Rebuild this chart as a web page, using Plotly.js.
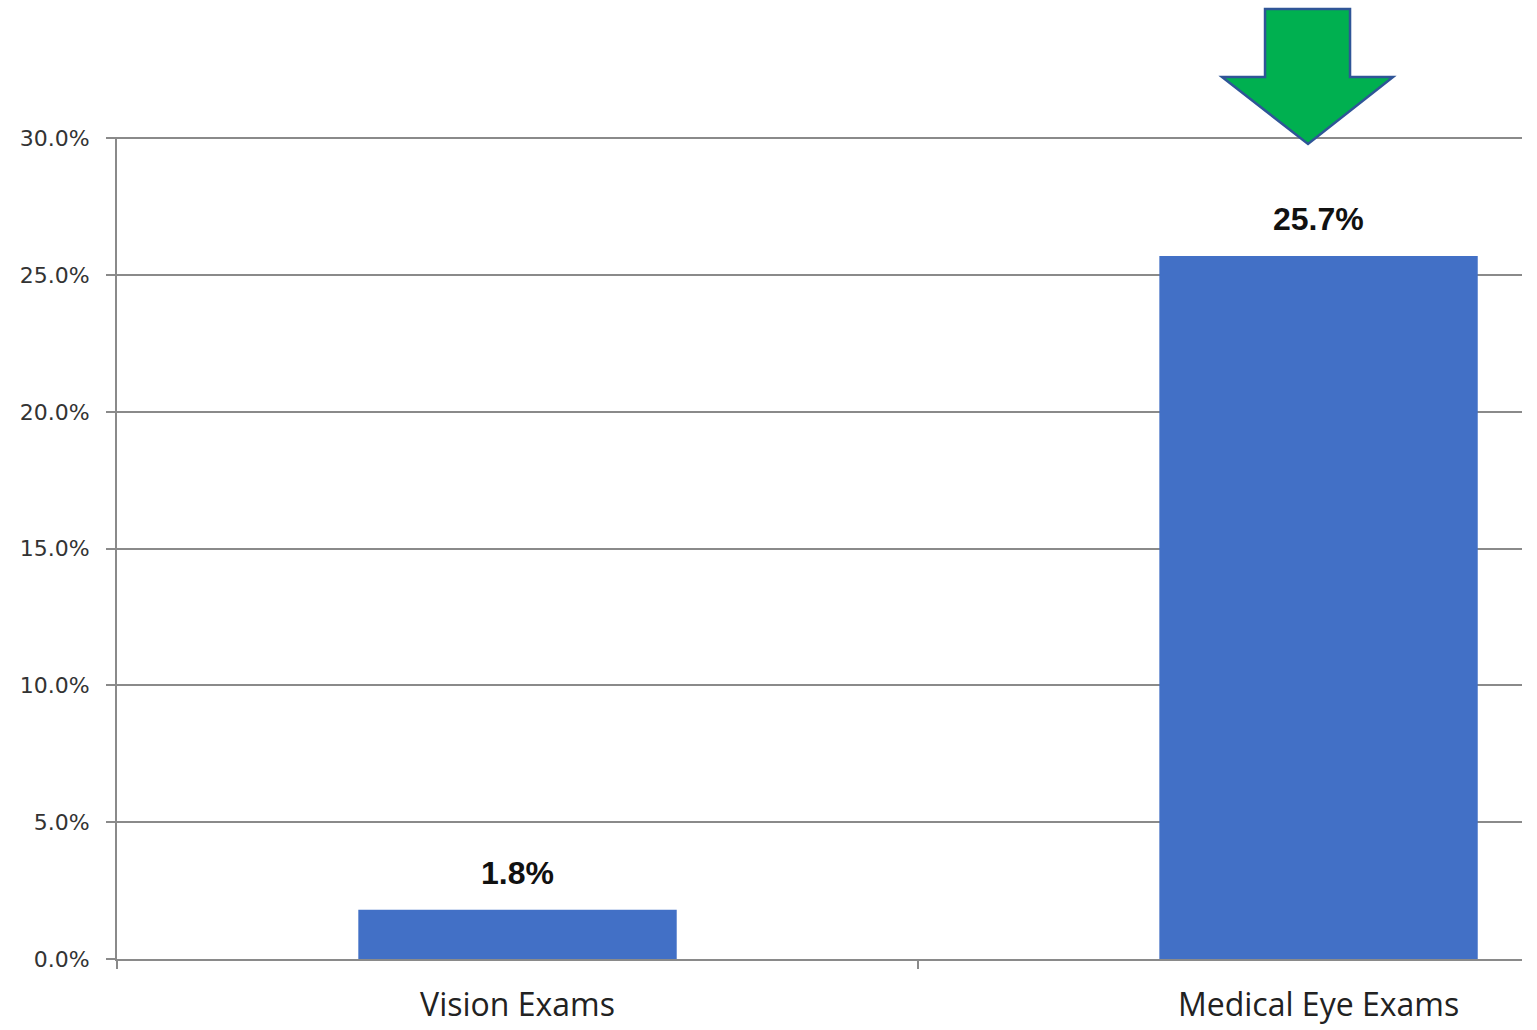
<!DOCTYPE html>
<html>
<head>
<meta charset="utf-8">
<script src="https://cdn.plot.ly/plotly-3.0.1.min.js"></script>
<style>html,body{margin:0;padding:0;background:#fff;}#chart{width:1537px;height:1030px;}</style>
</head>
<body>
<div id="chart"></div>
<script>
const categories = ["Vision Exams", "Medical Eye Exams"];
const values = [1.8, 25.7];
const yTickVals = [0, 5, 10, 15, 20, 25, 30];
const yTickText = yTickVals.map(v => v.toFixed(1) + '%');

const trace = {
  type: 'bar',
  x: categories,
  y: values,
  width: 0.3975,
  marker: {color: '#4270c6', line: {width: 0}},
  hoverinfo: 'none'
};

const annotations = categories.map((c, i) => ({
  x: c, y: values[i], xref: 'x', yref: 'y',
  text: values[i].toFixed(1) + '%',
  showarrow: false, yshift: 37,
  font: {family: 'Liberation Sans, Arial, sans-serif', size: 32, color: '#111', weight: 'bold'}
}));

const layout = {
  width: 1537, height: 1030,
  margin: {l: 117, r: 15, t: 137, b: 71},
  paper_bgcolor: '#fff', plot_bgcolor: '#fff',
  showlegend: false,
  xaxis: {
    type: 'category',
    range: [-0.5, 1.254],
    showline: true, linecolor: '#8a8a8a', linewidth: 2,
    ticks: 'outside', tickson: 'boundaries', ticklen: 8, tickwidth: 2, tickcolor: '#8a8a8a',
    showgrid: false,
    tickfont: {family: 'Open Sans, Noto Sans, sans-serif', size: 32, color: '#222'},
    ticklabelstandoff: 17
  },
  yaxis: {
    range: [0, 30.05],
    tickmode: 'array',
    tickvals: yTickVals,
    ticktext: yTickText,
    showline: true, linecolor: '#8a8a8a', linewidth: 2,
    ticks: 'outside', ticklen: 9, tickwidth: 2, tickcolor: '#8a8a8a',
    showgrid: true, gridcolor: '#8a8a8a', gridwidth: 2,
    zeroline: false,
    tickfont: {family: 'DejaVu Sans, sans-serif', size: 22, color: '#333'},
    ticklabelstandoff: 12
  },
  annotations: annotations,
  shapes: [{
    type: 'path', xref: 'paper', yref: 'paper', layer: 'above',
    path: 'M 0.8171,1.1557 L 0.8776,1.1557 L 0.8776,1.0730 L 0.9082,1.0730 L 0.8477,0.9915 L 0.7865,1.0730 L 0.8171,1.0730 Z',
    fillcolor: '#00b050',
    line: {color: '#2f5597', width: 2.5}
  }]
};

Plotly.newPlot('chart', [trace], layout, {displayModeBar: false, staticPlot: true});
</script>
</body>
</html>
